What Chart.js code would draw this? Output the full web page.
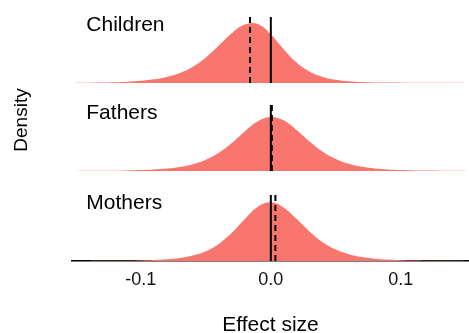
<!DOCTYPE html>
<html>
<head>
<meta charset="utf-8">
<script src="https://cdn.jsdelivr.net/npm/chart.js@4/dist/chart.umd.min.js"></script>
<style>
  html, body { margin: 0; padding: 0; background: #ffffff; }
  #wrap { width: 469px; height: 333px; }
</style>
</head>
<body>
<div id="wrap"><canvas id="ridges" width="469" height="333"></canvas></div>
<script>
// Groups, top to bottom
const groups = ['Children', 'Fathers', 'Mothers'];

// Effect-size grid on which the densities are given
const effectGrid = [
  -0.15, -0.14, -0.13, -0.12, -0.11, -0.10, -0.09, -0.08, -0.07, -0.06,
  -0.05, -0.04, -0.03, -0.02, -0.01, 0.00, 0.01, 0.02, 0.03, 0.04,
  0.05, 0.06, 0.07, 0.08, 0.09, 0.10, 0.11, 0.12, 0.13, 0.14, 0.15
];

// Posterior densities per group
const childrenDensity = [
  0.05, 0.08, 0.12, 0.19, 0.31, 0.51, 0.85, 1.41, 2.33, 3.80,
  5.95, 8.72, 11.59, 13.58, 13.71, 11.31, 7.78, 4.70, 2.63, 1.42,
  0.77, 0.42, 0.23, 0.14, 0.09, 0.06, 0.05, 0.04, 0.03, 0.03, 0.02
];
const fathersDensity = [
  0.02, 0.04, 0.05, 0.08, 0.13, 0.21, 0.34, 0.56, 0.94, 1.58,
  2.64, 4.26, 6.54, 9.21, 11.55, 12.56, 11.72, 9.48, 6.80, 4.46,
  2.77, 1.67, 0.99, 0.59, 0.36, 0.22, 0.14, 0.09, 0.06, 0.04, 0.03
];
const mothersDensity = [
  0.01, 0.02, 0.03, 0.05, 0.08, 0.14, 0.23, 0.41, 0.72, 1.28,
  2.28, 3.98, 6.55, 9.77, 12.63, 13.64, 12.41, 9.75, 6.81, 4.37,
  2.66, 1.58, 0.93, 0.55, 0.33, 0.20, 0.13, 0.08, 0.05, 0.03, 0.02
];

// Reference lines per group: solid at zero, dashed at the estimate
const solidLineAt = [0.0, 0.0, 0.0];
const dashedLineAt = [-0.016, 0.0008, 0.0035];
const markerHeight = 15.35;

// Axis ticks
const xTicks = [-0.1, 0.0, 0.1];

// ---- drawing setup ----
const FONT = '"Liberation Sans", Arial, Helvetica, sans-serif';
const FILL = '#F8766D';
const PX_PER_UNIT = 4.3;
const panelHeights = [83, 88, 90];
const axisIds = ['yChildren', 'yFathers', 'yMothers'];
const densities = [childrenDensity, fathersDensity, mothersDensity];

const toPoints = ys => effectGrid.map((x, i) => ({ x: x, y: ys[i] }));
const vLine = x => [{ x: x, y: 0 }, { x: x, y: markerHeight }];

const datasets = [];
groups.forEach((g, i) => {
  datasets.push({
    label: g + ' mean', data: vLine(dashedLineAt[i]), yAxisID: axisIds[i],
    borderColor: '#000000', borderWidth: 2, borderDash: [6, 4],
    pointRadius: 0, fill: false, order: 0
  });
  datasets.push({
    label: g + ' zero', data: vLine(solidLineAt[i]), yAxisID: axisIds[i],
    borderColor: '#000000', borderWidth: 2,
    pointRadius: 0, fill: false, order: 0
  });
  datasets.push({
    label: g, data: toPoints(densities[i]), yAxisID: axisIds[i],
    borderWidth: 0, borderColor: FILL, backgroundColor: FILL,
    pointRadius: 0, fill: 'origin', tension: 0.4, order: 1
  });
});

const scales = {
  x: {
    type: 'linear', position: 'bottom', min: -0.153, max: 0.1525,
    grid: { display: false, drawTicks: false },
    border: { display: true, color: '#000000', width: 1.5 },
    ticks: {
      color: '#111111', padding: 8,
      font: { family: FONT, size: 18 },
      callback: v => v.toFixed(1)
    },
    afterBuildTicks: s => { s.ticks = xTicks.map(v => ({ value: v })); },
    afterFit: s => { s.height = 72; }
  }
};
// Stacked panel axes are laid out bottom-up, so register them in reverse
for (let i = axisIds.length - 1; i >= 0; i--) {
  scales[axisIds[i]] = {
    type: 'linear', position: 'left', stack: 'ridges',
    stackWeight: panelHeights[i], min: 0, max: panelHeights[i] / PX_PER_UNIT,
    display: false
  };
}

// Group names and axis titles
const textPlugin = {
  id: 'ridgeText',
  afterDraw(chart) {
    const ctx = chart.ctx;
    const xs = chart.scales.x;
    const area = chart.chartArea;
    ctx.save();
    ctx.fillStyle = '#000000';
    ctx.font = '21px ' + FONT;
    ctx.textAlign = 'left';
    ctx.textBaseline = 'alphabetic';
    groups.forEach((g, i) => {
      const ys = chart.scales[axisIds[i]];
      ctx.fillText(g, xs.getPixelForValue(-0.142), ys.getPixelForValue(12.2));
    });
    ctx.textAlign = 'center';
    ctx.fillText('Effect size', (area.left + area.right) / 2, 331);
    ctx.font = '19px ' + FONT;
    ctx.translate(27, 120);
    ctx.rotate(-Math.PI / 2);
    ctx.fillText('Density', 0, 0);
    ctx.restore();
  }
};

new Chart(document.getElementById('ridges'), {
  type: 'line',
  data: { datasets: datasets },
  options: {
    responsive: false,
    animation: false,
    layout: { padding: { left: 72, right: 0, top: 0, bottom: 0 } },
    plugins: { legend: { display: false }, tooltip: { enabled: false } },
    scales: scales
  },
  plugins: [textPlugin]
});
</script>
</body>
</html>
